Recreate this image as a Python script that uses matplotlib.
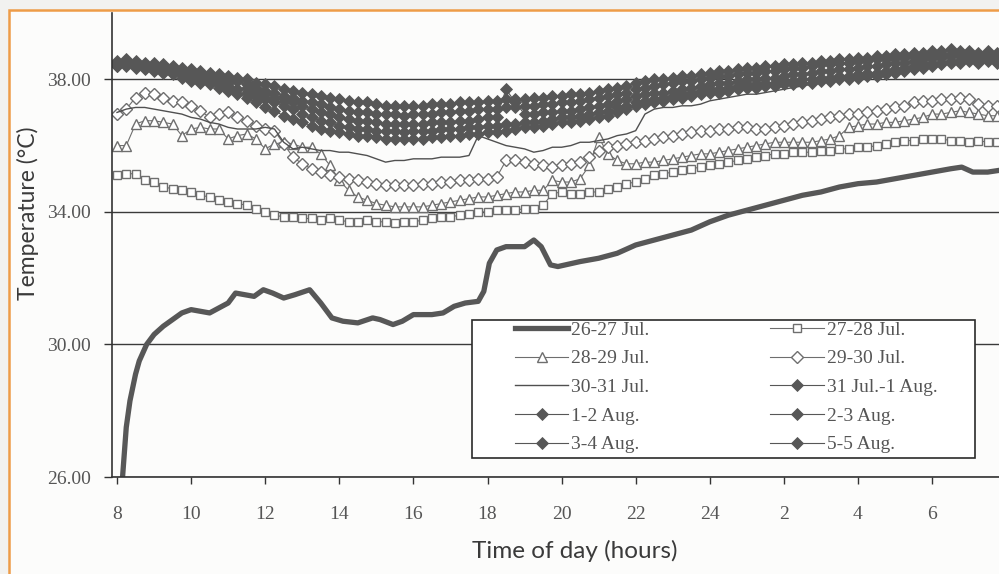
import numpy as np
import matplotlib

matplotlib.use("Agg")
import matplotlib.pyplot as plt
from matplotlib.patches import Rectangle

plt.rcParams["font.family"] = ["Liberation Serif", "DejaVu Serif"]

# logger samples every 15 min, 8:00 on day 1 to 7:45 on day 2
hours = np.arange(8.0, 32.0, 0.25)

# 26-27 Jul. starts a bit later, kept on its own time base
jul26_hours = [8.15, 8.25, 8.35, 8.5, 8.6, 8.8, 9.0, 9.25, 9.5, 9.75, 10.0, 10.25,
               10.5, 10.75, 11.0, 11.2, 11.45, 11.7, 11.95, 12.2, 12.5, 12.8, 13.2, 13.5,
               13.8, 14.1, 14.5, 14.9, 15.1, 15.45, 15.7, 16.0, 16.5, 16.8, 17.1, 17.4,
               17.75, 17.9, 18.05, 18.25, 18.5, 19.0, 19.25, 19.45, 19.7, 19.9, 20.5, 21.0,
               21.5, 22.0, 22.5, 23.0, 23.5, 24.0, 24.5, 25.0, 25.5, 26.0, 26.5, 27.0,
               27.5, 28.0, 28.5, 29.0, 29.5, 30.0, 30.5, 30.8, 31.1, 31.5, 31.8]
jul26 = [26.0, 27.5, 28.3, 29.1, 29.5, 30.0, 30.3, 30.55, 30.75, 30.95, 31.05, 31.0,
         30.95, 31.1, 31.25, 31.55, 31.5, 31.45, 31.65, 31.55, 31.4, 31.5, 31.65, 31.25,
         30.8, 30.7, 30.65, 30.8, 30.75, 30.6, 30.7, 30.9, 30.9, 30.95, 31.15, 31.25,
         31.3, 31.6, 32.45, 32.85, 32.95, 32.95, 33.15, 32.95, 32.4, 32.35, 32.5, 32.6,
         32.75, 33.0, 33.15, 33.3, 33.45, 33.7, 33.9, 34.05, 34.2, 34.35, 34.5, 34.6,
         34.75, 34.85, 34.9, 35.0, 35.1, 35.2, 35.3, 35.35, 35.2, 35.2, 35.25]

jul27 = [35.10, 35.15, 35.15, 34.95, 34.90, 34.75, 34.70, 34.65, 34.60, 34.50, 34.45, 34.35,
         34.30, 34.25, 34.20, 34.10, 34.00, 33.90, 33.85, 33.85, 33.80, 33.80, 33.75, 33.80,
         33.75, 33.70, 33.70, 33.75, 33.70, 33.70, 33.65, 33.70, 33.70, 33.75, 33.80, 33.85,
         33.85, 33.90, 33.95, 34.00, 34.00, 34.05, 34.05, 34.05, 34.10, 34.10, 34.20, 34.55,
         34.60, 34.55, 34.55, 34.60, 34.60, 34.70, 34.75, 34.85, 34.90, 35.00, 35.10, 35.15,
         35.20, 35.25, 35.30, 35.35, 35.40, 35.45, 35.50, 35.55, 35.60, 35.65, 35.70, 35.75,
         35.75, 35.80, 35.80, 35.80, 35.85, 35.85, 35.90, 35.90, 35.95, 35.95, 36.00, 36.05,
         36.10, 36.15, 36.15, 36.20, 36.20, 36.20, 36.15, 36.15, 36.10, 36.15, 36.10, 36.10]

jul28 = [36.00, 36.00, 36.65, 36.75, 36.75, 36.70, 36.65, 36.30, 36.50, 36.55, 36.50, 36.50,
         36.20, 36.30, 36.35, 36.20, 35.90, 36.05, 36.10, 36.05, 35.95, 35.95, 35.75, 35.40,
         34.95, 34.65, 34.45, 34.35, 34.25, 34.20, 34.15, 34.15, 34.15, 34.15, 34.20, 34.25,
         34.30, 34.35, 34.40, 34.45, 34.45, 34.50, 34.55, 34.60, 34.60, 34.65, 34.65, 34.95,
         34.90, 34.90, 35.00, 35.40, 36.25, 35.75, 35.55, 35.45, 35.45, 35.50, 35.50, 35.55,
         35.60, 35.65, 35.70, 35.75, 35.75, 35.80, 35.85, 35.90, 35.95, 36.00, 36.05, 36.10,
         36.10, 36.10, 36.10, 36.10, 36.15, 36.20, 36.30, 36.55, 36.60, 36.65, 36.65, 36.70,
         36.70, 36.75, 36.80, 36.85, 36.95, 36.95, 37.00, 37.05, 37.00, 36.95, 36.90, 36.90]

jul29 = [36.95, 37.10, 37.45, 37.60, 37.55, 37.45, 37.35, 37.30, 37.20, 37.05, 36.85, 36.95,
         37.00, 36.85, 36.75, 36.60, 36.50, 36.45, 36.05, 35.65, 35.45, 35.30, 35.20, 35.10,
         35.05, 35.00, 34.95, 34.90, 34.85, 34.80, 34.80, 34.80, 34.80, 34.85, 34.85, 34.90,
         34.90, 34.95, 34.95, 35.00, 35.00, 35.05, 35.55, 35.55, 35.50, 35.45, 35.40, 35.35,
         35.40, 35.45, 35.50, 35.65, 35.85, 35.95, 36.00, 36.05, 36.10, 36.15, 36.20, 36.25,
         36.30, 36.35, 36.40, 36.45, 36.45, 36.50, 36.50, 36.55, 36.55, 36.50, 36.50, 36.55,
         36.60, 36.65, 36.70, 36.75, 36.80, 36.85, 36.90, 36.95, 36.95, 37.00, 37.05, 37.10,
         37.15, 37.20, 37.30, 37.35, 37.35, 37.40, 37.40, 37.45, 37.40, 37.25, 37.20, 37.20]

jul30 = [37.00, 37.10, 37.15, 37.15, 37.10, 37.05, 37.00, 36.95, 36.85, 36.80, 36.70, 36.65,
         36.55, 36.50, 36.50, 36.50, 36.55, 36.50, 36.10, 35.90, 35.95, 35.90, 35.85, 35.85,
         35.80, 35.80, 35.75, 35.70, 35.60, 35.50, 35.55, 35.55, 35.60, 35.60, 35.60, 35.65,
         35.65, 35.65, 35.70, 36.30, 36.20, 36.10, 36.00, 35.95, 35.90, 35.80, 35.85, 35.95,
         35.95, 36.00, 36.10, 36.10, 36.15, 36.20, 36.30, 36.35, 36.45, 36.95, 37.10, 37.15,
         37.15, 37.20, 37.20, 37.25, 37.35, 37.40, 37.45, 37.50, 37.55, 37.55, 37.60, 37.65,
         37.70, 37.75, 37.80, 37.85, 37.90, 37.95, 37.95, 38.00, 38.05, 38.10, 38.15, 38.20,
         38.25, 38.30, 38.35, 38.40, 38.45, 38.50, 38.55, 38.60, 38.60, 38.65, 38.65, 38.65]

jul31 = [38.55, 38.60, 38.55, 38.50, 38.50, 38.45, 38.40, 38.35, 38.30, 38.25, 38.20, 38.15,
         38.10, 38.05, 38.00, 37.90, 37.85, 37.80, 37.70, 37.65, 37.60, 37.55, 37.50, 37.45,
         37.40, 37.35, 37.30, 37.30, 37.25, 37.20, 37.20, 37.20, 37.20, 37.20, 37.25, 37.25,
         37.25, 37.30, 37.30, 37.30, 37.35, 37.35, 37.40, 37.40, 37.40, 37.45, 37.45, 37.50,
         37.50, 37.55, 37.55, 37.60, 37.65, 37.70, 37.75, 37.80, 37.90, 37.95, 38.00, 38.00,
         38.05, 38.10, 38.10, 38.15, 38.20, 38.25, 38.25, 38.30, 38.35, 38.35, 38.40, 38.40,
         38.45, 38.45, 38.50, 38.50, 38.55, 38.55, 38.60, 38.60, 38.65, 38.65, 38.70, 38.70,
         38.75, 38.75, 38.80, 38.80, 38.85, 38.85, 38.90, 38.85, 38.85, 38.80, 38.85, 38.80]

aug1 = [38.50, 38.50, 38.45, 38.45, 38.40, 38.35, 38.30, 38.25, 38.20, 38.15, 38.10, 38.05,
        38.00, 37.95, 37.85, 37.75, 37.65, 37.60, 37.50, 37.45, 37.35, 37.30, 37.25, 37.15,
        37.10, 37.05, 37.00, 37.00, 36.95, 36.95, 36.95, 36.90, 36.95, 36.95, 36.95, 37.00,
        37.00, 37.05, 37.05, 37.10, 37.10, 37.10, 37.15, 37.15, 37.20, 37.20, 37.25, 37.25,
        37.30, 37.30, 37.35, 37.40, 37.45, 37.50, 37.55, 37.60, 37.70, 37.75, 37.80, 37.85,
        37.90, 37.95, 37.95, 38.00, 38.05, 38.10, 38.10, 38.15, 38.20, 38.20, 38.25, 38.25,
        38.30, 38.35, 38.35, 38.40, 38.45, 38.45, 38.50, 38.50, 38.55, 38.55, 38.60, 38.60,
        38.65, 38.65, 38.70, 38.70, 38.75, 38.75, 38.75, 38.75, 38.75, 38.70, 38.75, 38.70]

aug2 = [38.45, 38.45, 38.40, 38.40, 38.35, 38.30, 38.25, 38.20, 38.10, 38.05, 38.00, 37.95,
        37.90, 38.00, 37.75, 37.65, 37.55, 37.45, 37.35, 37.30, 37.20, 37.10, 37.00, 36.95,
        36.85, 36.80, 36.75, 36.75, 36.70, 36.65, 36.65, 36.65, 36.65, 36.65, 36.70, 36.70,
        36.70, 36.75, 36.75, 36.80, 36.85, 36.85, 37.70, 37.30, 36.95, 36.95, 37.00, 37.00,
        37.05, 37.05, 37.10, 37.15, 37.20, 37.25, 37.35, 37.40, 37.50, 37.55, 37.60, 37.60,
        37.65, 37.70, 37.75, 37.80, 37.85, 37.90, 37.90, 37.95, 38.00, 38.00, 38.05, 38.05,
        38.10, 38.15, 38.15, 38.20, 38.25, 38.25, 38.30, 38.30, 38.35, 38.40, 38.40, 38.45,
        38.50, 38.50, 38.55, 38.60, 38.65, 38.65, 38.70, 38.70, 38.70, 38.65, 38.70, 38.65]

aug3 = [38.40, 38.45, 38.40, 38.35, 38.30, 38.25, 38.20, 38.15, 38.05, 38.00, 37.95, 37.85,
        37.80, 37.70, 37.60, 37.50, 37.40, 37.30, 37.20, 37.10, 36.95, 36.85, 36.75, 36.70,
        36.60, 36.55, 36.50, 36.50, 36.45, 36.45, 36.45, 36.40, 36.45, 36.45, 36.45, 36.50,
        36.50, 36.50, 36.55, 36.55, 36.60, 36.60, 36.65, 36.65, 36.70, 36.70, 36.75, 36.80,
        36.85, 36.85, 36.90, 36.95, 37.00, 37.05, 37.15, 37.20, 37.30, 37.35, 37.40, 37.45,
        37.50, 37.55, 37.60, 37.65, 37.70, 37.70, 37.75, 37.80, 37.85, 37.85, 37.90, 37.90,
        37.95, 37.95, 38.00, 38.00, 38.05, 38.05, 38.10, 38.10, 38.15, 38.20, 38.20, 38.25,
        38.30, 38.35, 38.40, 38.45, 38.50, 38.50, 38.55, 38.55, 38.60, 38.55, 38.60, 38.55]

aug5 = [38.40, 38.40, 38.35, 38.30, 38.25, 38.20, 38.15, 38.05, 37.95, 37.90, 37.85, 37.75,
        37.65, 37.55, 37.45, 37.30, 37.15, 37.05, 36.90, 36.80, 36.70, 36.60, 36.50, 36.45,
        36.40, 36.35, 36.30, 36.30, 36.25, 36.20, 36.20, 36.20, 36.20, 36.20, 36.25, 36.25,
        36.30, 36.30, 36.35, 36.35, 36.40, 36.40, 36.45, 36.50, 36.55, 36.55, 36.60, 36.65,
        36.70, 36.70, 36.75, 36.80, 36.85, 36.90, 37.00, 37.10, 37.20, 37.25, 37.30, 37.35,
        37.40, 37.45, 37.50, 37.55, 37.60, 37.60, 37.65, 37.70, 37.75, 37.75, 37.80, 37.80,
        37.85, 37.85, 37.90, 37.90, 37.95, 37.95, 38.00, 38.00, 38.05, 38.10, 38.10, 38.15,
        38.20, 38.25, 38.30, 38.35, 38.40, 38.45, 38.50, 38.50, 38.55, 38.50, 38.55, 38.50]

tick_hours = [8, 10, 12, 14, 16, 18, 20, 22, 24, 26, 28, 30]
tick_labels = ["8", "10", "12", "14", "16", "18", "20", "22", "24", "2", "4", "6"]
temp_ticks = [26, 30, 34, 38]

W, H = 999, 574
fig = plt.figure(figsize=(W / 100, H / 100), dpi=100)
fig.patch.set_facecolor("#f2f2f0")
# scanned page frame (orange rule top and left)
fig.add_artist(Rectangle((8.5 / W, -0.05), 1.2, 1.05 - 9.5 / H,
                         transform=fig.transFigure, facecolor="#fcfcfb",
                         edgecolor="#ee9c48", linewidth=1.8, zorder=0))

px_per_h = 37.05
x0 = 8 - 5 / px_per_h
x1 = 32.0
right_px = 117 + (x1 - 8) * px_per_h
ax = fig.add_axes([112 / W, (H - 477) / H, (right_px - 112) / W, (477 - 13) / H])
ax.set_facecolor("none")

dark = "#575757"
line_c = "#6e6e6e"

thick, = ax.plot(jul26_hours, jul26, color=dark, lw=3.8, solid_joinstyle="round",
                 label="26-27 Jul.")
sq, = ax.plot(hours, jul27, color=line_c, lw=0.8, marker="s", ms=5.5, mfc="white",
              mec=line_c, mew=1.0, label="27-28 Jul.")
tri, = ax.plot(hours, jul28, color=line_c, lw=0.8, marker="^", ms=6.5, mfc="white",
               mec=line_c, mew=1.0, label="28-29 Jul.")
dia, = ax.plot(hours, jul29, color=line_c, lw=0.8, marker="D", ms=6, mfc="white",
               mec=line_c, mew=1.0, label="29-30 Jul.")
thin, = ax.plot(hours, jul30, color="#505050", lw=1.0, label="30-31 Jul.")

filled = {}
for name, vals in [("31 Jul.-1 Aug.", jul31), ("1-2 Aug.", aug1), ("2-3 Aug.", aug2),
                   ("3-4 Aug.", aug3), ("5-5 Aug.", aug5)]:
    filled[name], = ax.plot(hours, vals, color=dark, lw=0.8, marker="D", ms=6.5,
                            mfc=dark, mec=dark, mew=0.6, label=name)

ax.set_xlim(x0, x1)
ax.set_ylim(26, 40)
ax.set_xticks(tick_hours)
ax.set_xticklabels(tick_labels)
ax.set_yticks(temp_ticks)
ax.set_yticklabels([f"{t:.2f}" for t in temp_ticks])
ax.yaxis.grid(True, color="#3a3a3a", lw=1.0)
ax.set_axisbelow(True)
for side in ("top", "right"):
    ax.spines[side].set_visible(False)
for side in ("left", "bottom"):
    ax.spines[side].set_color("#333333")
    ax.spines[side].set_linewidth(1.2)
ax.tick_params(axis="y", direction="out", length=6, width=1, pad=9,
               labelsize=14, labelcolor="#555555", color="#333333")
ax.tick_params(axis="x", direction="out", length=5, width=1, pad=16,
               labelsize=14, labelcolor="#555555", color="#333333")

fig.text(28 / W, (H - 213) / H, "Temperature (°C)", family="Lato", fontsize=16.5,
         color="#3a3a3a", rotation=90, ha="center", va="center")
fig.text(575 / W, (H - 551) / H, "Time of day (hours)", family="Lato", fontsize=17.5,
         color="#3a3a3a", ha="center", va="center")

# legend box drawn separately so its size matches the original
box = Rectangle((472 / W, (H - 458) / H), 503 / W, 138 / H, transform=fig.transFigure,
                facecolor="white", edgecolor="#2a2a2a", linewidth=1.2, zorder=5,
                clip_on=False)
ax.add_patch(box)
handles = [thick, tri, thin, filled["1-2 Aug."], filled["3-4 Aug."],
           sq, dia, filled["31 Jul.-1 Aug."], filled["2-3 Aug."], filled["5-5 Aug."]]
leg = ax.legend(handles=handles, labels=[h.get_label() for h in handles], ncol=2,
                loc="upper left", bbox_to_anchor=(515 / W, (H - 321) / H),
                bbox_transform=fig.transFigure, frameon=False, fontsize=14,
                handlelength=2.75, handletextpad=0.15, columnspacing=6.2,
                labelspacing=0.57, borderpad=0, borderaxespad=0, numpoints=1)
leg.set_zorder(6)
for t in leg.get_texts():
    t.set_color("#555555")

fig.savefig("out.png", dpi=100, facecolor=fig.get_facecolor())
